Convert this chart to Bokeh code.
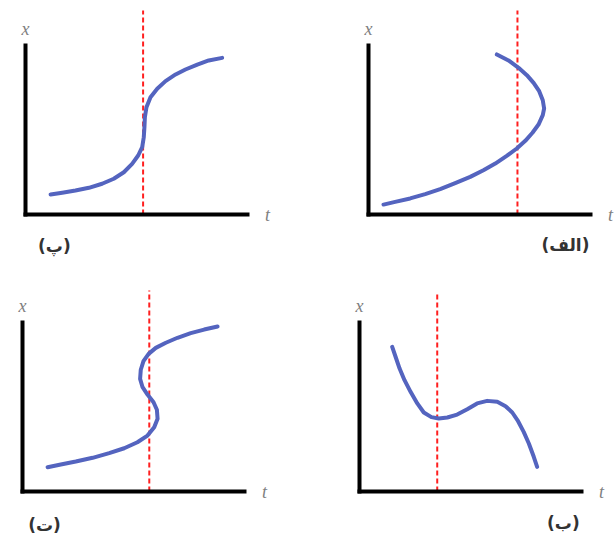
from bokeh.plotting import figure
from bokeh.models import Range1d
from bokeh.layouts import column, row
from bokeh.core.properties import value
from bokeh.embed import file_html
from bokeh.resources import INLINE

# ---- data (t, x); both axes run 0..10 ----
p1_t = [1.12, 1.64, 2.23, 2.83, 3.42, 3.94, 4.39, 4.76, 5.03, 5.21, 5.28, 5.31, 5.33, 5.40,
        5.58, 5.88, 6.25, 6.70, 7.14, 7.67, 8.18, 8.78]
p1_x = [1.17, 1.27, 1.40, 1.56, 1.80, 2.09, 2.47, 2.96, 3.45, 3.94, 4.52, 5.11, 5.69, 6.27,
        6.86, 7.35, 7.80, 8.19, 8.48, 8.77, 9.01, 9.16]

p2_t = [0.67, 1.19, 1.86, 2.53, 3.20, 3.87, 4.54, 5.13, 5.66, 6.17, 6.62, 7.00, 7.32, 7.59,
        7.78, 7.84, 7.78, 7.62, 7.37, 7.07, 6.70, 6.25, 5.73]
p2_x = [0.58, 0.74, 0.94, 1.19, 1.48, 1.83, 2.20, 2.59, 2.98, 3.43, 3.86, 4.31, 4.78, 5.26,
        5.81, 6.20, 6.68, 7.21, 7.70, 8.15, 8.58, 9.01, 9.36]

p3_t = [1.12, 1.71, 2.38, 3.13, 3.87, 4.54, 5.13, 5.58, 5.88, 6.03, 6.00, 5.85, 5.58, 5.36,
        5.25, 5.28, 5.40, 5.63, 5.95, 6.40, 6.92, 7.51, 8.11, 8.71]
p3_x = [1.42, 1.58, 1.75, 1.97, 2.24, 2.53, 2.88, 3.27, 3.76, 4.25, 4.78, 5.22, 5.67, 6.10,
        6.59, 7.12, 7.62, 8.05, 8.40, 8.70, 8.99, 9.26, 9.47, 9.65]

p4_t = [1.46, 1.61, 1.79, 2.01, 2.28, 2.58, 2.87, 3.21, 3.54, 3.92, 4.36, 4.81, 5.25, 5.70,
        6.15, 6.52, 6.82, 7.08, 7.33, 7.56, 7.78, 7.93]
p4_x = [8.46, 7.88, 7.19, 6.51, 5.83, 5.15, 4.62, 4.35, 4.27, 4.33, 4.50, 4.81, 5.15, 5.30,
        5.25, 4.99, 4.62, 4.11, 3.49, 2.81, 2.03, 1.44]

marker_t = [5.25, 6.65, 5.66, 3.47]        # dashed red line positions (t)
marker_top = [11.93, 11.93, 11.75, 11.58]  # how high each dashed line reaches (x)
panel_labels = ["(پ)", "(الف)", "(ت)", "(ب)"]
panel_label_t = [1.29, 8.79, 0.98, 9.1]
panel_label_x = [-1.87, -1.81, -1.93, -1.87]
axis_names = ["x", "t"]
axis_len = 10

CURVE = "#5464bf"
RED = "#ff1f1f"
T_PX = 22.4   # pixels per t unit
X_PX = 17.1   # pixels per x unit

# each panel: figure size and where its origin sits inside it (px from left, px from bottom)
fig_w, fig_h = 308, 270
origins = [(25, 56), (60, 56), (22, 49), (51, 49)]
curves = [(p1_t, p1_x), (p2_t, p2_x), (p3_t, p3_x), (p4_t, p4_x)]


def make_panel(i):
    ox, oy = origins[i]
    xr = Range1d(-ox / T_PX, (fig_w - ox) / T_PX)
    yr = Range1d(-oy / X_PX, (fig_h - oy) / X_PX)
    p = figure(width=fig_w, height=fig_h, x_range=xr, y_range=yr,
               output_backend="svg", toolbar_location=None,
               min_border_left=0, min_border_right=0, min_border_top=0, min_border_bottom=0)
    p.xgrid.visible = False
    p.ygrid.visible = False
    p.outline_line_color = None
    p.xaxis.bounds = (-2 / T_PX, axis_len)
    p.yaxis.bounds = (-2 / X_PX, axis_len)
    for ax in (p.xaxis[0], p.yaxis[0]):
        ax.fixed_location = 0
        ax.ticker = []
        ax.axis_line_width = 4
        ax.axis_line_color = "black"
        ax.axis_line_cap = "butt"
        ax.major_tick_line_color = None
        ax.minor_tick_line_color = None
        ax.major_tick_out = 0
        ax.minor_tick_out = 0
        ax.major_tick_in = 0
        ax.minor_tick_in = 0
        ax.major_label_text_font_size = "0px"
        ax.major_label_standoff = 0
    p.segment(x0=[marker_t[i]], y0=[0], x1=[marker_t[i]], y1=[marker_top[i]],
              line_color=RED, line_width=2, line_dash="5 3")
    t, x = curves[i]
    p.line(t, x, line_color=CURVE, line_width=4, line_join="round", line_cap="round")
    p.text(x=[0], y=[10.85], text=[axis_names[0]], text_font=value("Liberation Serif"),
           text_font_style="italic", text_font_size=value("18px"), text_color="#808080",
           text_align="center", text_baseline="middle")
    p.text(x=[10.8], y=[0], text=[axis_names[1]], text_font=value("Liberation Serif"),
           text_font_style="italic", text_font_size=value("18px"), text_color="#808080",
           text_align="center", text_baseline="middle")
    p.text(x=[panel_label_t[i]], y=[panel_label_x[i]], text=[panel_labels[i]],
           text_font=value("DejaVu Sans"), text_font_style="bold",
           text_font_size=value("17px"), text_color="#333333",
           text_align="center", text_baseline="middle")
    return p


panels = [make_panel(i) for i in range(4)]
layout = column(row(panels[0], panels[1]), row(panels[2], panels[3]))

open("out.html", "w").write(file_html(layout, INLINE))
